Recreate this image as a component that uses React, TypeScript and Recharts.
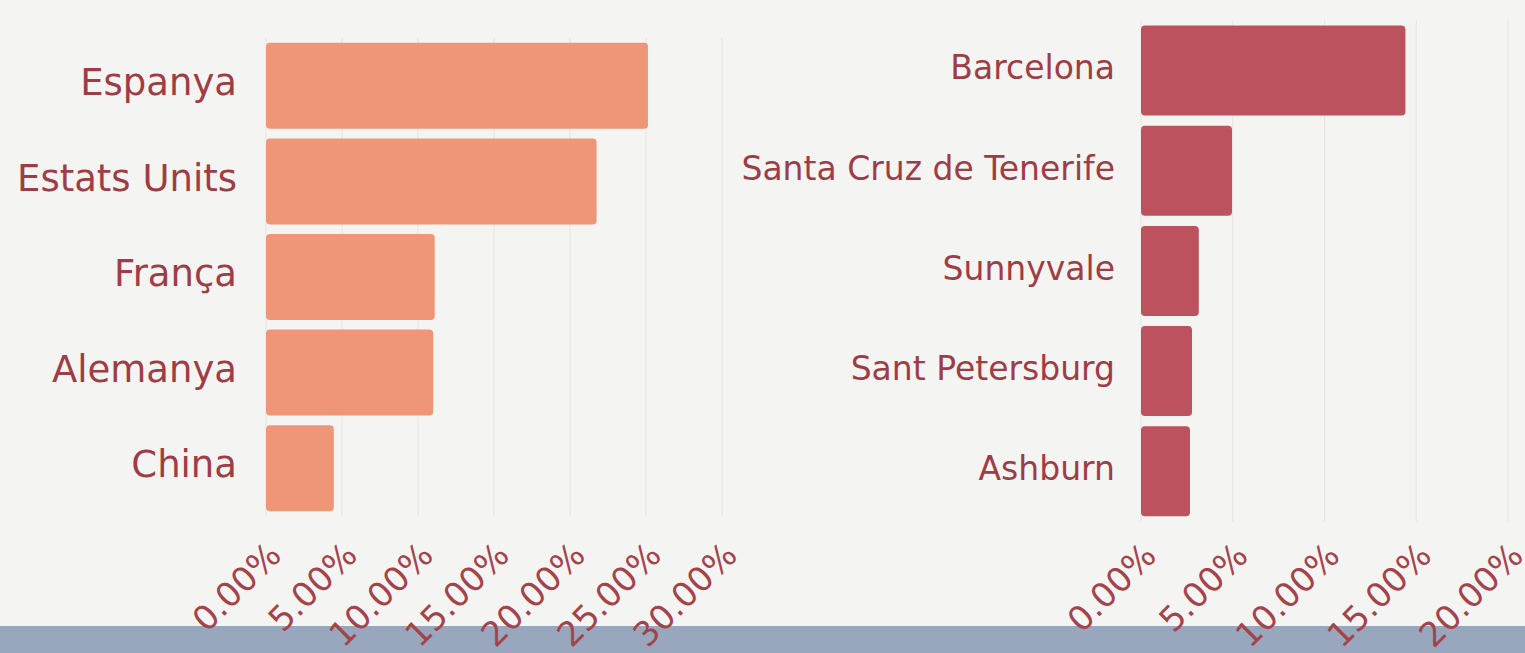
import React from 'react';
import { BarChart, Bar, XAxis, YAxis, CartesianGrid } from 'recharts';

const countryNames = ['Espanya', 'Estats Units', 'França', 'Alemanya', 'China'];
const countryShares = [0.2513, 0.2175, 0.111, 0.110, 0.0446];
const countryTicks = [0, 0.05, 0.1, 0.15, 0.2, 0.25, 0.3];

const cityNames = ['Barcelona', 'Santa Cruz de Tenerife', 'Sunnyvale', 'Sant Petersburg', 'Ashburn'];
const cityShares = [0.1441, 0.0496, 0.0315, 0.0278, 0.0267];
const cityTicks = [0, 0.05, 0.1, 0.15, 0.2];

const countryData = countryNames.map((name, i) => ({ name, value: countryShares[i] }));
const cityData = cityNames.map((name, i) => ({ name, value: cityShares[i] }));

const FONT = '"DejaVu Sans", sans-serif';
const LABEL_COLOR = '#9e3d45';
const TICK_COLOR = '#a3434b';
const pct = (v: number) => `${(v * 100).toFixed(2)}%`;

export default function App() {
  return (
    <div
      style={{
        position: 'absolute',
        left: 0,
        top: 0,
        width: 1525,
        height: 653,
        background: '#f4f4f2',
        overflow: 'hidden',
        fontFamily: FONT,
      }}
    >
      <div style={{ position: 'absolute', left: 0, top: 626, width: 1525, height: 27, background: '#98a7bd' }} />
      <div style={{ position: 'absolute', left: 0, top: 0 }}>
        <BarChart
          width={760}
          height={653}
          data={countryData}
          layout="vertical"
          margin={{ top: 38, right: 38, bottom: 0, left: 0 }}
          barCategoryGap="5%"
          style={{ overflow: 'visible' }}
        >
          <CartesianGrid horizontal={false} stroke="#e8e4e3" />
          <XAxis
            type="number"
            domain={[0, 0.3]}
            ticks={countryTicks}
            tickFormatter={pct}
            height={137}
            axisLine={false}
            tickLine={false}
            interval={0}
            angle={-45}
            textAnchor="end"
            tickMargin={18}
            tick={{ fill: TICK_COLOR, fontSize: 34, fontFamily: FONT }}
          />
          <YAxis
            type="category"
            dataKey="name"
            width={266}
            axisLine={false}
            tickLine={false}
            tickSize={0}
            tickMargin={29}
            interval={0}
            tick={{ fill: LABEL_COLOR, fontSize: 37, fontFamily: FONT, dy: -4 }}
          />
          <Bar dataKey="value" fill="#ef9679" radius={4} isAnimationActive={false} />
        </BarChart>
      </div>
      <div style={{ position: 'absolute', left: 700, top: 0 }}>
        <BarChart
          width={825}
          height={653}
          data={cityData}
          layout="vertical"
          margin={{ top: 20.5, right: 17, bottom: 0, left: 0 }}
          barCategoryGap="5%"
          style={{ overflow: 'visible' }}
        >
          <CartesianGrid horizontal={false} stroke="#e8e4e3" />
          <XAxis
            type="number"
            domain={[0, 0.2]}
            ticks={cityTicks}
            tickFormatter={pct}
            height={131.5}
            axisLine={false}
            tickLine={false}
            interval={0}
            angle={-45}
            textAnchor="end"
            tickMargin={13}
            tick={{ fill: TICK_COLOR, fontSize: 34, fontFamily: FONT }}
          />
          <YAxis
            type="category"
            dataKey="name"
            width={441}
            axisLine={false}
            tickLine={false}
            tickSize={0}
            tickMargin={26}
            interval={0}
            tick={{ fill: LABEL_COLOR, fontSize: 33, fontFamily: FONT, dy: -3 }}
          />
          <Bar dataKey="value" fill="#bb525e" radius={4} isAnimationActive={false} />
        </BarChart>
      </div>
    </div>
  );
}
